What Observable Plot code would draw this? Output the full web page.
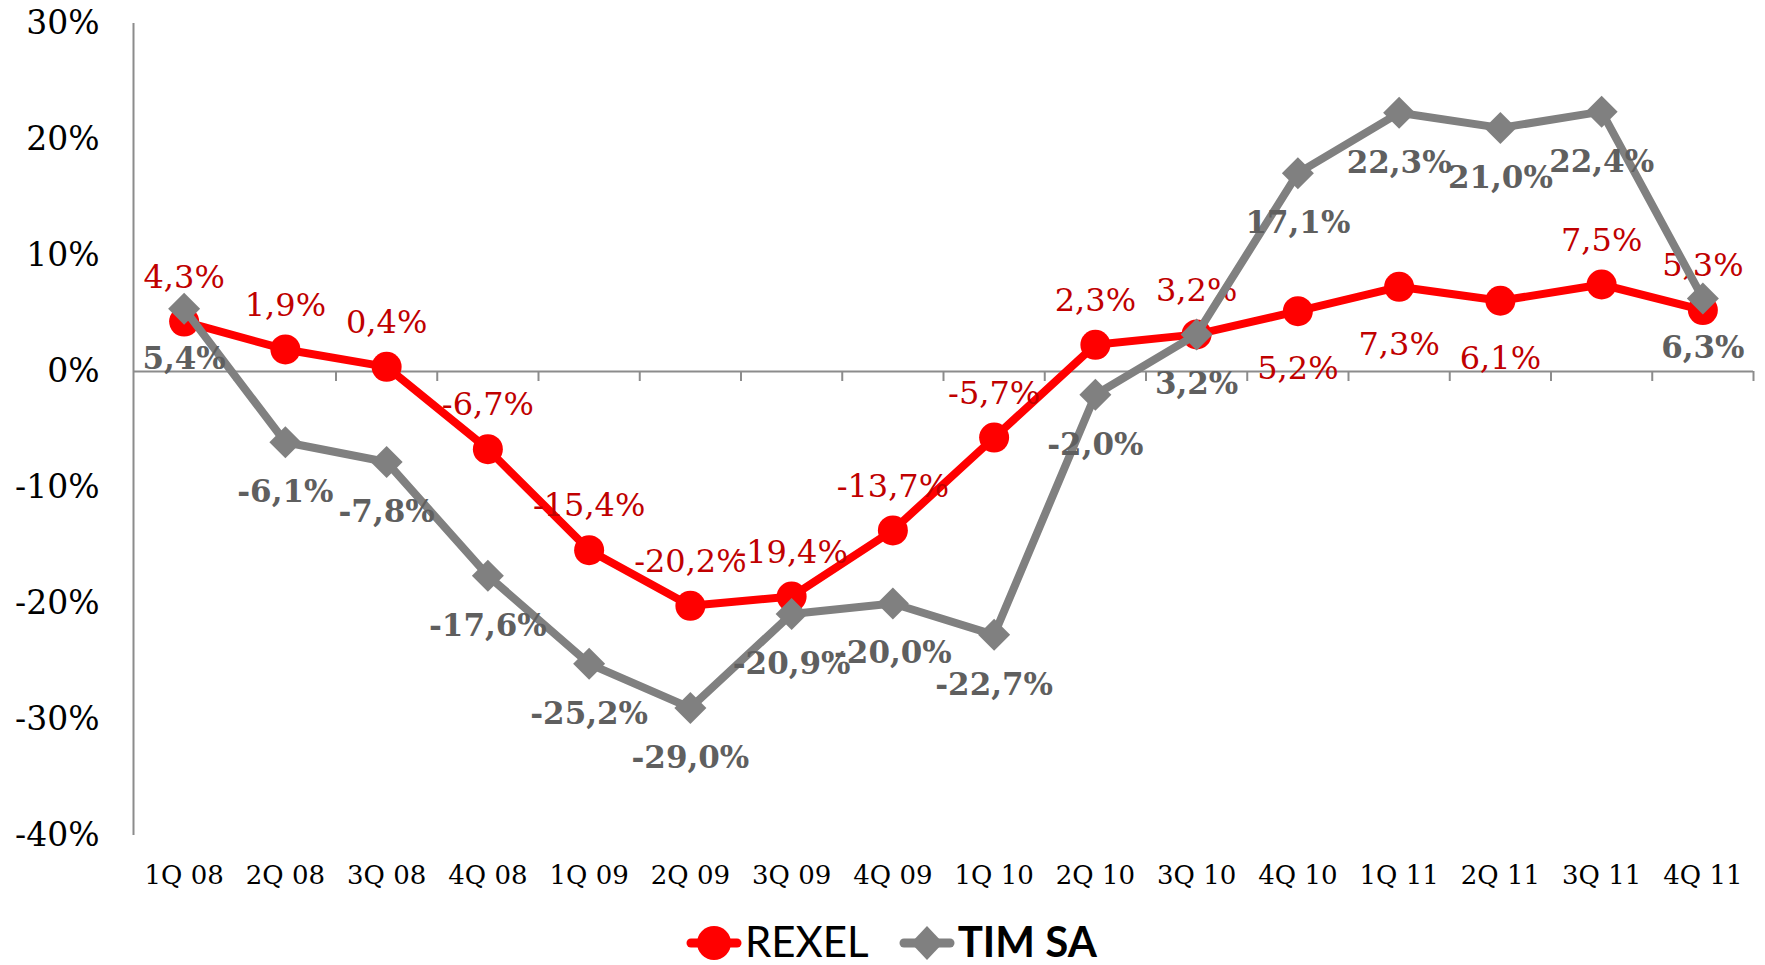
<!DOCTYPE html>
<html>
<head>
<meta charset="utf-8">
<script src="https://cdn.jsdelivr.net/npm/d3@7"></script>
<script src="https://cdn.jsdelivr.net/npm/@observablehq/plot@0.6"></script>
<style>
  html, body { margin: 0; padding: 0; background: #fff; overflow: hidden; }
  #wrap { position: relative; width: 1765px; height: 965px; }
  #legend { position: absolute; left: 686px; top: 921px; height: 40px; display: flex; align-items: center; font-family: Lato, "Open Sans", sans-serif; font-size: 42px; color: #000; line-height: 40px; }
  .item { display: flex; align-items: center; margin-right: 30px; height: 40px; }
  .item svg { margin-right: 3px; }
</style>
</head>
<body>
<div id="wrap">
  <div id="chart"></div>
  <div id="legend"></div>
</div>
<script>
const categories = ["1Q 08","2Q 08","3Q 08","4Q 08","1Q 09","2Q 09","3Q 09","4Q 09","1Q 10","2Q 10","3Q 10","4Q 10","1Q 11","2Q 11","3Q 11","4Q 11"];
const rexel = [4.3, 1.9, 0.4, -6.7, -15.4, -20.2, -19.4, -13.7, -5.7, 2.3, 3.2, 5.2, 7.3, 6.1, 7.5, 5.3];
const timsa = [5.4, -6.1, -7.8, -17.6, -25.2, -29.0, -20.9, -20.0, -22.7, -2.0, 3.2, 17.1, 22.3, 21.0, 22.4, 6.3];
const rexelLabelSide = ["above","above","above","above","above","above","above","above","above","above","above","below","below","below","above","above"];
const yTicks = [-40, -30, -20, -10, 0, 10, 20, 30];
const seriesNames = ["REXEL", "TIM SA"];

const fmt = v => v.toFixed(1).replace(".", ",") + "%";
const rexelData = categories.map((c, i) => ({i: i + 0.5, cat: c, v: rexel[i], side: rexelLabelSide[i]}));
const timData = categories.map((c, i) => ({i: i + 0.5, cat: c, v: timsa[i]}));
const centers = categories.map((c, i) => i + 0.5);
const bounds = categories.map((c, i) => i + 1);

const diamond = {
  draw(ctx, size) {
    const h = Math.sqrt(size / Math.PI);
    ctx.moveTo(0, -h); ctx.lineTo(h, 0); ctx.lineTo(0, h); ctx.lineTo(-h, 0); ctx.closePath();
  }
};

const RED = "#ff0000", RED_TXT = "#c00000", GRAY = "#808080", GRAY_TXT = "#5f5f5f", AXIS = "#8c8c8c";

const chart = Plot.plot({
  width: 1765,
  height: 910,
  marginLeft: 133,
  marginRight: 12,
  marginTop: 23,
  marginBottom: 75,
  style: {fontFamily: "'DejaVu Serif', serif", background: "#fff"},
  x: {type: "linear", domain: [0, categories.length], label: null},
  y: {domain: [-40, 30], label: null},
  marks: [
    Plot.ruleX([0], {stroke: AXIS, strokeWidth: 2}),
    Plot.ruleY([0], {stroke: AXIS, strokeWidth: 2}),
    Plot.ruleX(bounds, {x: d => d, y1: 0, y2: 0, insetBottom: -10, stroke: AXIS, strokeWidth: 2}),
    Plot.axisY({ticks: yTicks, tickSize: 0, tickPadding: 34, tickFormat: d => `${d}%`, fontSize: 33, fill: "#000", label: null}),
    Plot.axisX({ticks: centers, tickSize: 0, tickPadding: 30, tickFormat: d => categories[Math.round(d - 0.5)], fontSize: 26, fill: "#000", label: null}),
    Plot.line(rexelData, {x: "i", y: "v", stroke: RED, strokeWidth: 8}),
    Plot.dot(rexelData, {x: "i", y: "v", r: 15, fill: RED, stroke: "none"}),
    Plot.text(rexelData.filter(d => d.side === "above"), {x: "i", y: "v", text: d => fmt(d.v), dy: -44, fill: RED_TXT, fontSize: 32}),
    Plot.text(rexelData.filter(d => d.side === "below"), {x: "i", y: "v", text: d => fmt(d.v), dy: 58, fill: RED_TXT, fontSize: 32}),
    Plot.line(timData, {x: "i", y: "v", stroke: GRAY, strokeWidth: 8}),
    Plot.dot(timData, {x: "i", y: "v", r: 16, symbol: diamond, fill: GRAY, stroke: "none"}),
    Plot.text(timData, {x: "i", y: "v", text: d => fmt(d.v), dy: 50, fill: GRAY_TXT, fontSize: 31, fontWeight: "bold"})
  ]
});
document.getElementById("chart").appendChild(chart);

// Legend
const legend = d3.select("#legend");
const items = [
  {name: seriesNames[0], color: RED, shape: "circle", weight: "normal"},
  {name: seriesNames[1], color: GRAY, shape: "diamond", weight: "bold"}
];
items.forEach(it => {
  const div = legend.append("div").attr("class", "item");
  const svg = div.append("svg").attr("width", 56).attr("height", 40);
  svg.append("line").attr("x1", 5).attr("x2", 51).attr("y1", 22).attr("y2", 22)
    .attr("stroke", it.color).attr("stroke-width", 9).attr("stroke-linecap", "round");
  if (it.shape === "circle") {
    svg.append("circle").attr("cx", 28).attr("cy", 22).attr("r", 17).attr("fill", it.color);
  } else {
    svg.append("path").attr("d", "M28,5 L44,22 L28,39 L12,22 Z").attr("fill", it.color);
  }
  div.append("span").text(it.name).style("font-weight", it.weight);
});
</script>
</body>
</html>
